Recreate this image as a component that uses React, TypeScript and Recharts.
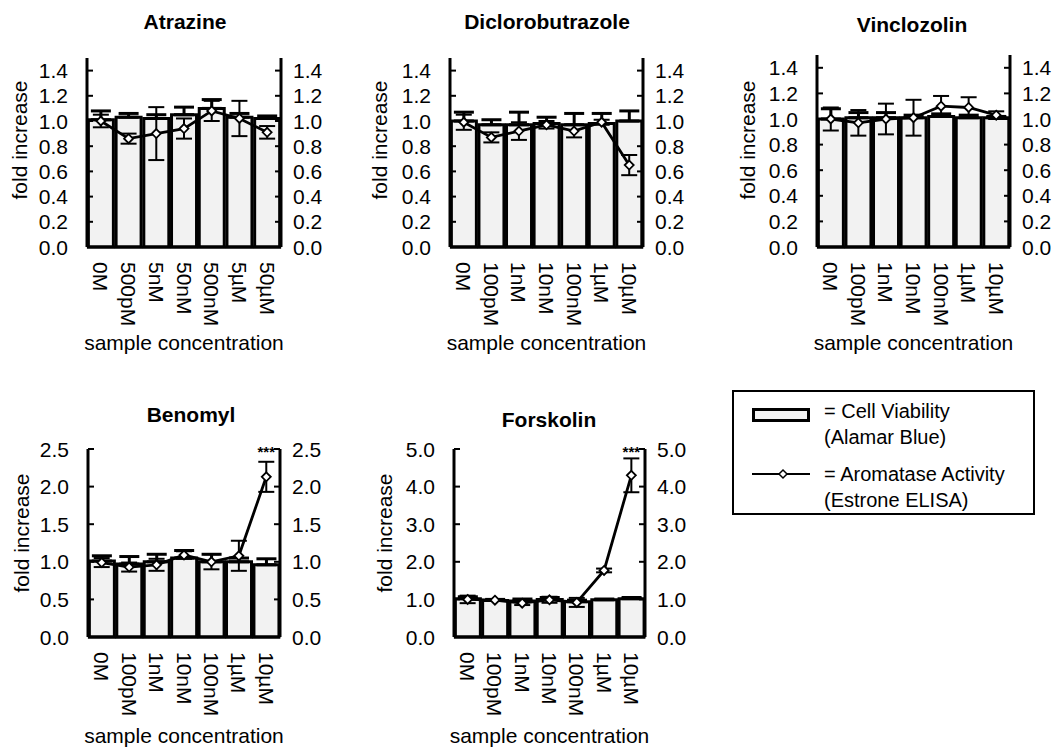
import React from "react";
import { Bar, ComposedChart, ErrorBar, Line, ReferenceDot, XAxis, YAxis } from "recharts";

const FONT = "Arial, 'Liberation Sans', sans-serif";

// doses
const dosesAtrazine = ["0M", "500pM", "5nM", "50nM", "500nM", "5µM", "50µM"];
const dosesStd = ["0M", "100pM", "1nM", "10nM", "100nM", "1µM", "10µM"];

const ticks15 = [0, 0.2, 0.4, 0.6, 0.8, 1.0, 1.2, 1.4];
const ticks25 = [0, 0.5, 1.0, 1.5, 2.0, 2.5];
const ticks50 = [0, 1, 2, 3, 4, 5];

// cell viability (bars) + upper error
const atrazineViability = [1.01, 1.03, 1.02, 1.05, 1.1, 1.03, 1.02];
const atrazineViabilityErr = [0.07, 0.03, 0.03, 0.06, 0.07, 0.03, 0.02];
const dicloViability = [1.0, 0.97, 0.97, 0.98, 0.97, 0.98, 1.0];
const dicloViabilityErr = [0.07, 0.04, 0.1, 0.05, 0.09, 0.08, 0.08];
const vincloViability = [1.0, 1.01, 1.01, 1.01, 1.02, 1.01, 1.01];
const vincloViabilityErr = [0.08, 0.04, 0.04, 0.02, 0.02, 0.02, 0.01];
const benomylViability = [1.01, 0.97, 1.0, 1.05, 1.0, 1.0, 0.96];
const benomylViabilityErr = [0.07, 0.1, 0.1, 0.1, 0.1, 0.05, 0.08];
const forskolinViability = [1.02, 0.97, 0.96, 1.0, 0.94, 0.99, 1.02];
const forskolinViabilityErr = [0.05, 0.03, 0.05, 0.05, 0.04, 0.02, 0.03];

// aromatase activity (line) + symmetric error
const atrazineAromatase = [1.0, 0.86, 0.9, 0.94, 1.08, 1.02, 0.91];
const atrazineAromataseErr = [0.05, 0.04, 0.21, 0.08, 0.08, 0.14, 0.05];
const dicloAromatase = [0.99, 0.87, 0.92, 0.97, 0.92, 0.99, 0.65];
const dicloAromataseErr = [0.06, 0.04, 0.07, 0.03, 0.05, 0.02, 0.08];
const vincloAromatase = [1.0, 0.97, 1.0, 1.01, 1.1, 1.09, 1.03];
const vincloAromataseErr = [0.09, 0.1, 0.12, 0.14, 0.08, 0.08, 0.03];
const benomylAromatase = [0.99, 0.93, 0.96, 1.09, 1.0, 1.08, 2.13];
const benomylAromataseErr = [0.06, 0.06, 0.08, 0.05, 0.1, 0.2, 0.2];
const forskolinAromatase = [1.0, 0.98, 0.9, 0.99, 0.92, 1.77, 4.3];
const forskolinAromataseErr = [0.1, 0.02, 0.05, 0.08, 0.12, 0.05, 0.45];

const panels = [
  {
    title: "Atrazine", doses: dosesAtrazine, viability: atrazineViability, viabilityErr: atrazineViabilityErr,
    aromatase: atrazineAromatase, aromataseErr: atrazineAromataseErr, max: 1.5, ticks: ticks15,
    left: 87, right: 281, top: 58, bottom: 247, titleX: 185, titleY: 22, ylabX: 20, ylabY: 140, xlabY: 343,
  },
  {
    title: "Diclorobutrazole", doses: dosesStd, viability: dicloViability, viabilityErr: dicloViabilityErr,
    aromatase: dicloAromatase, aromataseErr: dicloAromataseErr, max: 1.5, ticks: ticks15,
    left: 450, right: 643, top: 58, bottom: 247, titleX: 547, titleY: 22, ylabX: 380, ylabY: 140, xlabY: 343,
  },
  {
    title: "Vinclozolin", doses: dosesStd, viability: vincloViability, viabilityErr: vincloViabilityErr,
    aromatase: vincloAromatase, aromataseErr: vincloAromataseErr, max: 1.5, ticks: ticks15,
    left: 817, right: 1010, top: 55, bottom: 247, titleX: 912, titleY: 25, ylabX: 748, ylabY: 140, xlabY: 343,
  },
  {
    title: "Benomyl", doses: dosesStd, viability: benomylViability, viabilityErr: benomylViabilityErr,
    aromatase: benomylAromatase, aromataseErr: benomylAromataseErr, max: 2.5, ticks: ticks25,
    left: 88, right: 280, top: 449, bottom: 637, titleX: 191, titleY: 415, ylabX: 22, ylabY: 533, xlabY: 736,
    sig: "***", sigAt: 2.47,
  },
  {
    title: "Forskolin", doses: dosesStd, viability: forskolinViability, viabilityErr: forskolinViabilityErr,
    aromatase: forskolinAromatase, aromataseErr: forskolinAromataseErr, max: 5, ticks: ticks50,
    left: 454, right: 645, top: 449, bottom: 637, titleX: 549, titleY: 420, ylabX: 385, ylabY: 533, xlabY: 736,
    sig: "***", sigAt: 4.93,
  },
];

const LW = 70;
const RW = 50;
const PAD_TOP = 10;
const XH = 95;
const LEFT_GAP = 19;
const RIGHT_GAP = 12;

function RotTick(props: any) {
  const { x, y, payload } = props;
  return (
    <text
      x={x}
      y={y}
      transform={`rotate(90 ${x} ${y})`}
      textAnchor="start"
      dominantBaseline="central"
      fontSize={21}
      fontFamily={FONT}
      fill="#000"
    >
      {payload.value}
    </text>
  );
}

// y tick: label outside, short tick mark pointing into the plot
function YTick(props: any) {
  const { x, y, payload, side } = props;
  const isLeft = side === "left";
  const ax = isLeft ? x + LEFT_GAP : x - RIGHT_GAP;
  const tx = isLeft ? ax + 6 : ax - 6;
  return (
    <g>
      <line x1={ax} y1={y} x2={tx} y2={y} stroke="#000" strokeWidth={2} />
      <text
        x={x}
        y={y}
        textAnchor={isLeft ? "end" : "start"}
        dominantBaseline="central"
        fontSize={21}
        fontFamily={FONT}
        fill="#000"
      >
        {Number(payload.value).toFixed(1)}
      </text>
    </g>
  );
}

function Diamond(props: any) {
  const { cx, cy, index } = props;
  if (cx == null || cy == null) return null;
  return (
    <polygon
      key={index}
      points={`${cx},${cy - 4.5} ${cx + 4.5},${cy} ${cx},${cy + 4.5} ${cx - 4.5},${cy}`}
      fill="#fff"
      stroke="#000"
      strokeWidth={1.8}
    />
  );
}

function Panel({ p }: { p: any }) {
  const data = p.doses.map((d: string, i: number) => ({
    dose: d,
    viability: p.viability[i],
    viabilityErr: [0, p.viabilityErr[i]],
    aromatase: p.aromatase[i],
    aromataseErr: p.aromataseErr[i],
  }));
  const w = p.right - p.left + LW + RW;
  const h = p.bottom - p.top + PAD_TOP + XH;
  const cx = (p.left + p.right) / 2;
  return (
    <>
      <div style={{ position: "absolute", left: p.left - LW, top: p.top - PAD_TOP }}>
        <ComposedChart
          width={w}
          height={h}
          data={data}
          margin={{ top: PAD_TOP, right: 0, bottom: 0, left: 0 }}
          barCategoryGap="5%"
        >
          <XAxis
            dataKey="dose"
            height={XH}
            interval={0}
            tickLine={false}
            tickSize={0}
            tickMargin={15}
            axisLine={{ stroke: "#000", strokeWidth: 3 }}
            tick={<RotTick />}
          />
          <YAxis
            yAxisId="left"
            width={LW}
            domain={[0, p.max]}
            ticks={p.ticks}
            interval={0}
            tickSize={0}
            tickMargin={LEFT_GAP}
            tickLine={false}
            tick={<YTick side="left" />}
            axisLine={{ stroke: "#000", strokeWidth: 3 }}
          />
          <YAxis
            yAxisId="right"
            orientation="right"
            width={RW}
            domain={[0, p.max]}
            ticks={p.ticks}
            interval={0}
            tickSize={0}
            tickMargin={RIGHT_GAP}
            tickLine={false}
            tick={<YTick side="right" />}
            axisLine={{ stroke: "#000", strokeWidth: 3 }}
          />
          <Bar
            yAxisId="left"
            dataKey="viability"
            fill="#f2f2f2"
            stroke="#000"
            strokeWidth={3}
            isAnimationActive={false}
          >
            <ErrorBar dataKey="viabilityErr" direction="y" width={10} stroke="#000" strokeWidth={3} />
          </Bar>
          {/* invisible series so the mirrored right axis gets its ticks */}
          <Line
            yAxisId="right"
            dataKey="aromatase"
            stroke="none"
            dot={false}
            activeDot={false}
            legendType="none"
            isAnimationActive={false}
          />
          <Line
            yAxisId="left"
            type="linear"
            dataKey="aromatase"
            stroke="#000"
            strokeWidth={2.8}
            dot={<Diamond />}
            activeDot={false}
            isAnimationActive={false}
          >
            <ErrorBar dataKey="aromataseErr" direction="y" width={8} stroke="#000" strokeWidth={2} />
          </Line>
          {p.sig ? (
            <ReferenceDot
              yAxisId="left"
              x={p.doses[p.doses.length - 1]}
              y={p.sigAt}
              r={0}
              fill="none"
              stroke="none"
              label={{ value: p.sig, position: "center", fontSize: 15, fontWeight: 700, fill: "#000", fontFamily: FONT }}
            />
          ) : null}
        </ComposedChart>
      </div>
      <div
        style={{
          position: "absolute", left: p.titleX, top: p.titleY, transform: "translate(-50%, -50%)",
          fontFamily: FONT, fontWeight: 700, fontSize: 21, whiteSpace: "nowrap",
        }}
      >
        {p.title}
      </div>
      <div
        style={{
          position: "absolute", left: p.ylabX, top: p.ylabY, transform: "translate(-50%, -50%) rotate(-90deg)",
          fontFamily: FONT, fontSize: 21, whiteSpace: "nowrap",
        }}
      >
        fold increase
      </div>
      <div
        style={{
          position: "absolute", left: cx, top: p.xlabY, transform: "translate(-50%, -50%)",
          fontFamily: FONT, fontSize: 21, whiteSpace: "nowrap",
        }}
      >
        sample concentration
      </div>
    </>
  );
}

function LegendBox() {
  const txt = (top: number, s: string) => (
    <div style={{ position: "absolute", left: 90, top, lineHeight: "24px", fontSize: 20, fontFamily: FONT, whiteSpace: "nowrap" }}>
      {s}
    </div>
  );
  return (
    <div
      style={{
        position: "absolute", left: 732, top: 390, width: 303, height: 125,
        border: "2px solid #000", boxSizing: "border-box",
      }}
    >
      <div
        style={{
          position: "absolute", left: 18, top: 16, width: 58, height: 14,
          border: "3px solid #000", background: "#f4f4f4", boxSizing: "border-box",
        }}
      />
      {txt(7, "= Cell Viability")}
      {txt(33, "(Alamar Blue)")}
      <svg style={{ position: "absolute", left: 18, top: 74 }} width={58} height={16}>
        <line x1={0} y1={8} x2={58} y2={8} stroke="#000" strokeWidth={2} />
        <polygon points="31,4 35,8 31,12 27,8" fill="#fff" stroke="#000" strokeWidth={1.5} />
      </svg>
      {txt(70, "= Aromatase Activity")}
      {txt(96, "(Estrone ELISA)")}
    </div>
  );
}

export default function App() {
  return (
    <div
      style={{
        position: "absolute", left: 0, top: 0, width: 1059, height: 747,
        overflow: "hidden", background: "#fff", color: "#000",
      }}
    >
      {panels.map((p) => (
        <Panel key={p.title} p={p} />
      ))}
      <LegendBox />
    </div>
  );
}
